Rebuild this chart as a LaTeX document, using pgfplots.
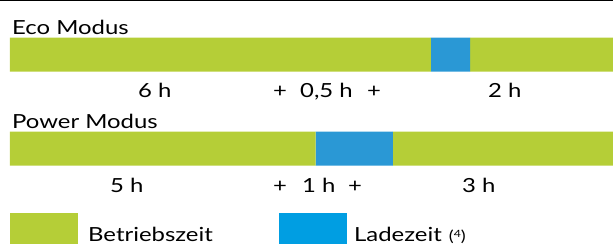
\documentclass[border=0pt]{standalone}
\usepackage{pgfplots}
\pgfplotsset{compat=1.18}
\usepackage{fontspec}
\setmainfont{Lato}[FakeStretch=1.23]
\definecolor{barGreen}{HTML}{B5CE37}
\definecolor{barBlue}{HTML}{2A98D5}
\definecolor{legBlue}{HTML}{009EE2}
\begin{document}
\begin{tikzpicture}[x=1bp,y=1bp]
\begin{axis}[
  at={(0,0)}, anchor=south west,
  scale only axis, width=613bp, height=244bp,
  xmin=-1.658, xmax=100, ymin=-0.0138, ymax=2.5819,
  hide axis, clip=false,
  xbar stacked, bar width=34bp,
]
% values: share of bar length (percent) Eco (y=2), Power (y=1)
\addplot[fill=barGreen, draw=none] coordinates {(69.8,2) (50.7,1)};
\addplot[fill=barBlue, draw=none] coordinates {(6.5,2) (12.8,1)};
\addplot[fill=barGreen, draw=none] coordinates {(23.7,2) (36.5,1)};
\end{axis}
\draw[line width=1.5bp] (0,243.5) -- (613,243.5);
\tikzset{lab/.style={anchor=base west, inner sep=0pt, font=\fontsize{19.5}{22}\selectfont}}
\node[lab] at (12,244-34.3) {Eco Modus};
\node[lab] at (138,244-97) {6 h};
\node[lab] at (273,244-97) {+};
\node[lab] at (300,244-97) {0,5 h};
\node[lab] at (367,244-97) {+};
\node[lab] at (488,244-97) {2 h};
\node[lab] at (12,244-128.3) {Power Modus};
\node[lab] at (110,244-192) {5 h};
\node[lab] at (273,244-192) {+};
\node[lab] at (302,244-192) {1 h};
\node[lab] at (348,244-192) {+};
\node[lab] at (462,244-192) {3 h};
\fill[barGreen] (10,0) rectangle (78,31);
\node[lab] at (88,3) {Betriebszeit};
\fill[legBlue] (279,0) rectangle (347,31);
\node[lab] at (354,3) {Ladezeit\hspace{7bp}{\fontsize{15}{16}\selectfont(\raisebox{0.4ex}{\fontsize{10}{12}\selectfont 4})}};
\pgfresetboundingbox
\path (0,0) rectangle (613,244);
\end{tikzpicture}
\end{document}
